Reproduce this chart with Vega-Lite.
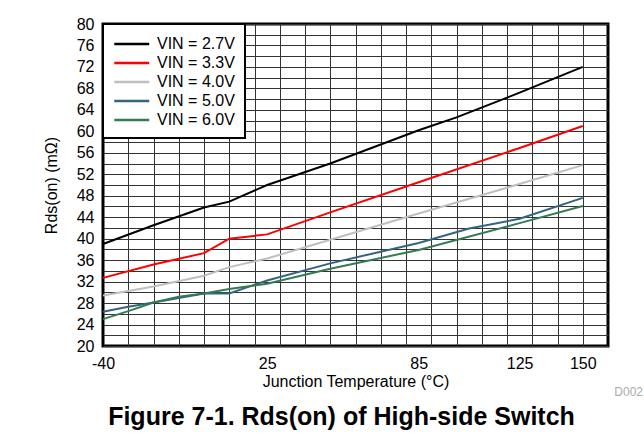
{
  "$schema": "https://vega.github.io/schema/vega-lite/v6.json",
  "width": 505,
  "height": 322,
  "autosize": {"type": "none"},
  "padding": {"left": 103, "top": 24, "right": 36, "bottom": 93},
  "background": "white",
  "title": {
    "text": "Figure 7-1. Rds(on) of High-side Switch",
    "orient": "bottom",
    "anchor": "middle",
    "font": "Liberation Sans",
    "fontSize": 25,
    "fontWeight": "bold",
    "color": "black",
    "offset": 7,
    "dx": -14
  },
  "config": {
    "font": "Liberation Sans",
    "view": {"stroke": "black", "strokeWidth": 3},
    "axis": {"labelColor": "black", "titleColor": "black", "labelFont": "Liberation Sans", "titleFont": "Liberation Sans"},
    "legend": {
      "orient": "top-left",
      "offset": 0,
      "padding": 10,
      "fillColor": "white",
      "strokeColor": "black",
      "strokeWidth": 2,
      "cornerRadius": 0,
      "symbolType": "M-1,0H3",
      "symbolSize": 306,
      "symbolStrokeWidth": 2.5,
      "labelFontSize": 16,
      "labelOffset": 24,
      "labelColor": "black",
      "labelLimit": 200,
      "rowPadding": 1
    }
  },
  "data": {
    "values": [
      {"s": "VIN = 2.7V", "t": -40, "r": 39},
      {"s": "VIN = 2.7V", "t": -20, "r": 42.5},
      {"s": "VIN = 2.7V", "t": 0, "r": 45.8},
      {"s": "VIN = 2.7V", "t": 10, "r": 46.9},
      {"s": "VIN = 2.7V", "t": 25, "r": 50},
      {"s": "VIN = 2.7V", "t": 50, "r": 54},
      {"s": "VIN = 2.7V", "t": 85, "r": 60.2},
      {"s": "VIN = 2.7V", "t": 100, "r": 62.6},
      {"s": "VIN = 2.7V", "t": 125, "r": 67.2},
      {"s": "VIN = 2.7V", "t": 150, "r": 72},
      {"s": "VIN = 3.3V", "t": -40, "r": 32.7},
      {"s": "VIN = 3.3V", "t": -20, "r": 35.2},
      {"s": "VIN = 3.3V", "t": 0, "r": 37.3},
      {"s": "VIN = 3.3V", "t": 10, "r": 40},
      {"s": "VIN = 3.3V", "t": 25, "r": 40.8},
      {"s": "VIN = 3.3V", "t": 50, "r": 44.9},
      {"s": "VIN = 3.3V", "t": 85, "r": 50.5},
      {"s": "VIN = 3.3V", "t": 125, "r": 56.9},
      {"s": "VIN = 3.3V", "t": 150, "r": 61},
      {"s": "VIN = 4.0V", "t": -40, "r": 29.4},
      {"s": "VIN = 4.0V", "t": -20, "r": 31.1},
      {"s": "VIN = 4.0V", "t": 0, "r": 33.1},
      {"s": "VIN = 4.0V", "t": 10, "r": 34.7},
      {"s": "VIN = 4.0V", "t": 25, "r": 36.3},
      {"s": "VIN = 4.0V", "t": 55, "r": 40.5},
      {"s": "VIN = 4.0V", "t": 85, "r": 44.7},
      {"s": "VIN = 4.0V", "t": 120, "r": 49.5},
      {"s": "VIN = 4.0V", "t": 150, "r": 53.7},
      {"s": "VIN = 5.0V", "t": -40, "r": 26.4},
      {"s": "VIN = 5.0V", "t": -30, "r": 27.3},
      {"s": "VIN = 5.0V", "t": -20, "r": 28.1},
      {"s": "VIN = 5.0V", "t": 0, "r": 29.8},
      {"s": "VIN = 5.0V", "t": 10, "r": 29.8},
      {"s": "VIN = 5.0V", "t": 25, "r": 32.2},
      {"s": "VIN = 5.0V", "t": 50, "r": 35.4},
      {"s": "VIN = 5.0V", "t": 85, "r": 39.2},
      {"s": "VIN = 5.0V", "t": 105, "r": 41.9},
      {"s": "VIN = 5.0V", "t": 125, "r": 43.7},
      {"s": "VIN = 5.0V", "t": 150, "r": 47.6},
      {"s": "VIN = 6.0V", "t": -40, "r": 25},
      {"s": "VIN = 6.0V", "t": -30, "r": 26.5},
      {"s": "VIN = 6.0V", "t": -20, "r": 28.1},
      {"s": "VIN = 6.0V", "t": -10, "r": 29.2},
      {"s": "VIN = 6.0V", "t": 0, "r": 29.8},
      {"s": "VIN = 6.0V", "t": 10, "r": 30.6},
      {"s": "VIN = 6.0V", "t": 25, "r": 31.6},
      {"s": "VIN = 6.0V", "t": 50, "r": 34.4},
      {"s": "VIN = 6.0V", "t": 85, "r": 37.9},
      {"s": "VIN = 6.0V", "t": 125, "r": 42.9},
      {"s": "VIN = 6.0V", "t": 150, "r": 46.1}
    ]
  },
  "layer": [
    {
      "mark": {"type": "line", "strokeWidth": 2},
      "encoding": {
        "x": {
          "field": "t", "type": "quantitative",
          "scale": {"domain": [-40, 160], "nice": false, "zero": false},
          "axis": {
            "values": [-40, -30, -20, -10, 0, 10, 20, 25, 30, 40, 50, 60, 70, 80, 85, 90, 100, 110, 120, 125, 130, 140, 150],
            "tickCount": 100,
            "labelOverlap": false,
            "labelExpr": "indexof([-40, 25, 85, 125, 150], datum.value) >= 0 ? '' + datum.value : ''",
            "grid": true,
            "gridColor": {"condition": {"test": "datum.value % 10 !== 0 || datum.value === -40", "value": "transparent"}, "value": "#333333"},
            "tickColor": "transparent", "tickSize": 1, "domain": false,
            "labelFontSize": 16, "labelPadding": 8, "labelFlush": false,
            "title": "Junction Temperature (°C)", "titleFontSize": 16, "titleFontWeight": "normal", "titlePadding": 2
          }
        },
        "y": {
          "field": "r", "type": "quantitative",
          "scale": {"domain": [20, 80], "nice": false, "zero": false},
          "axis": {
            "values": [20, 22, 24, 26, 28, 30, 32, 34, 36, 38, 40, 42, 44, 46, 48, 50, 52, 54, 56, 58, 60, 62, 64, 66, 68, 70, 72, 74, 76, 78, 80],
            "tickCount": 100,
            "labelOverlap": false,
            "labelExpr": "datum.value % 4 === 0 ? '' + datum.value : ''",
            "grid": true, "gridColor": "#333333",
            "tickColor": "transparent", "tickSize": 1, "domain": false,
            "labelFontSize": 16, "labelPadding": 8,
            "title": "Rds(on) (mΩ)", "titleFontSize": 16, "titleFontWeight": "normal", "titlePadding": 17
          }
        },
        "color": {
          "field": "s", "type": "nominal",
          "scale": {
            "domain": ["VIN = 2.7V", "VIN = 3.3V", "VIN = 4.0V", "VIN = 5.0V", "VIN = 6.0V"],
            "range": ["#000000", "#ff0000", "#bfbfbf", "#336480", "#357a50"]
          },
          "legend": {"title": null}
        }
      }
    },
    {
      "data": {"values": [{"label": "D002", "t": 160, "r": 20}]},
      "mark": {"type": "text", "align": "right", "baseline": "middle", "dx": 35, "dy": 46, "color": "#aaaaaa", "fontSize": 12},
      "encoding": {
        "x": {"field": "t", "type": "quantitative"},
        "y": {"field": "r", "type": "quantitative"},
        "text": {"field": "label"}
      }
    }
  ]
}
